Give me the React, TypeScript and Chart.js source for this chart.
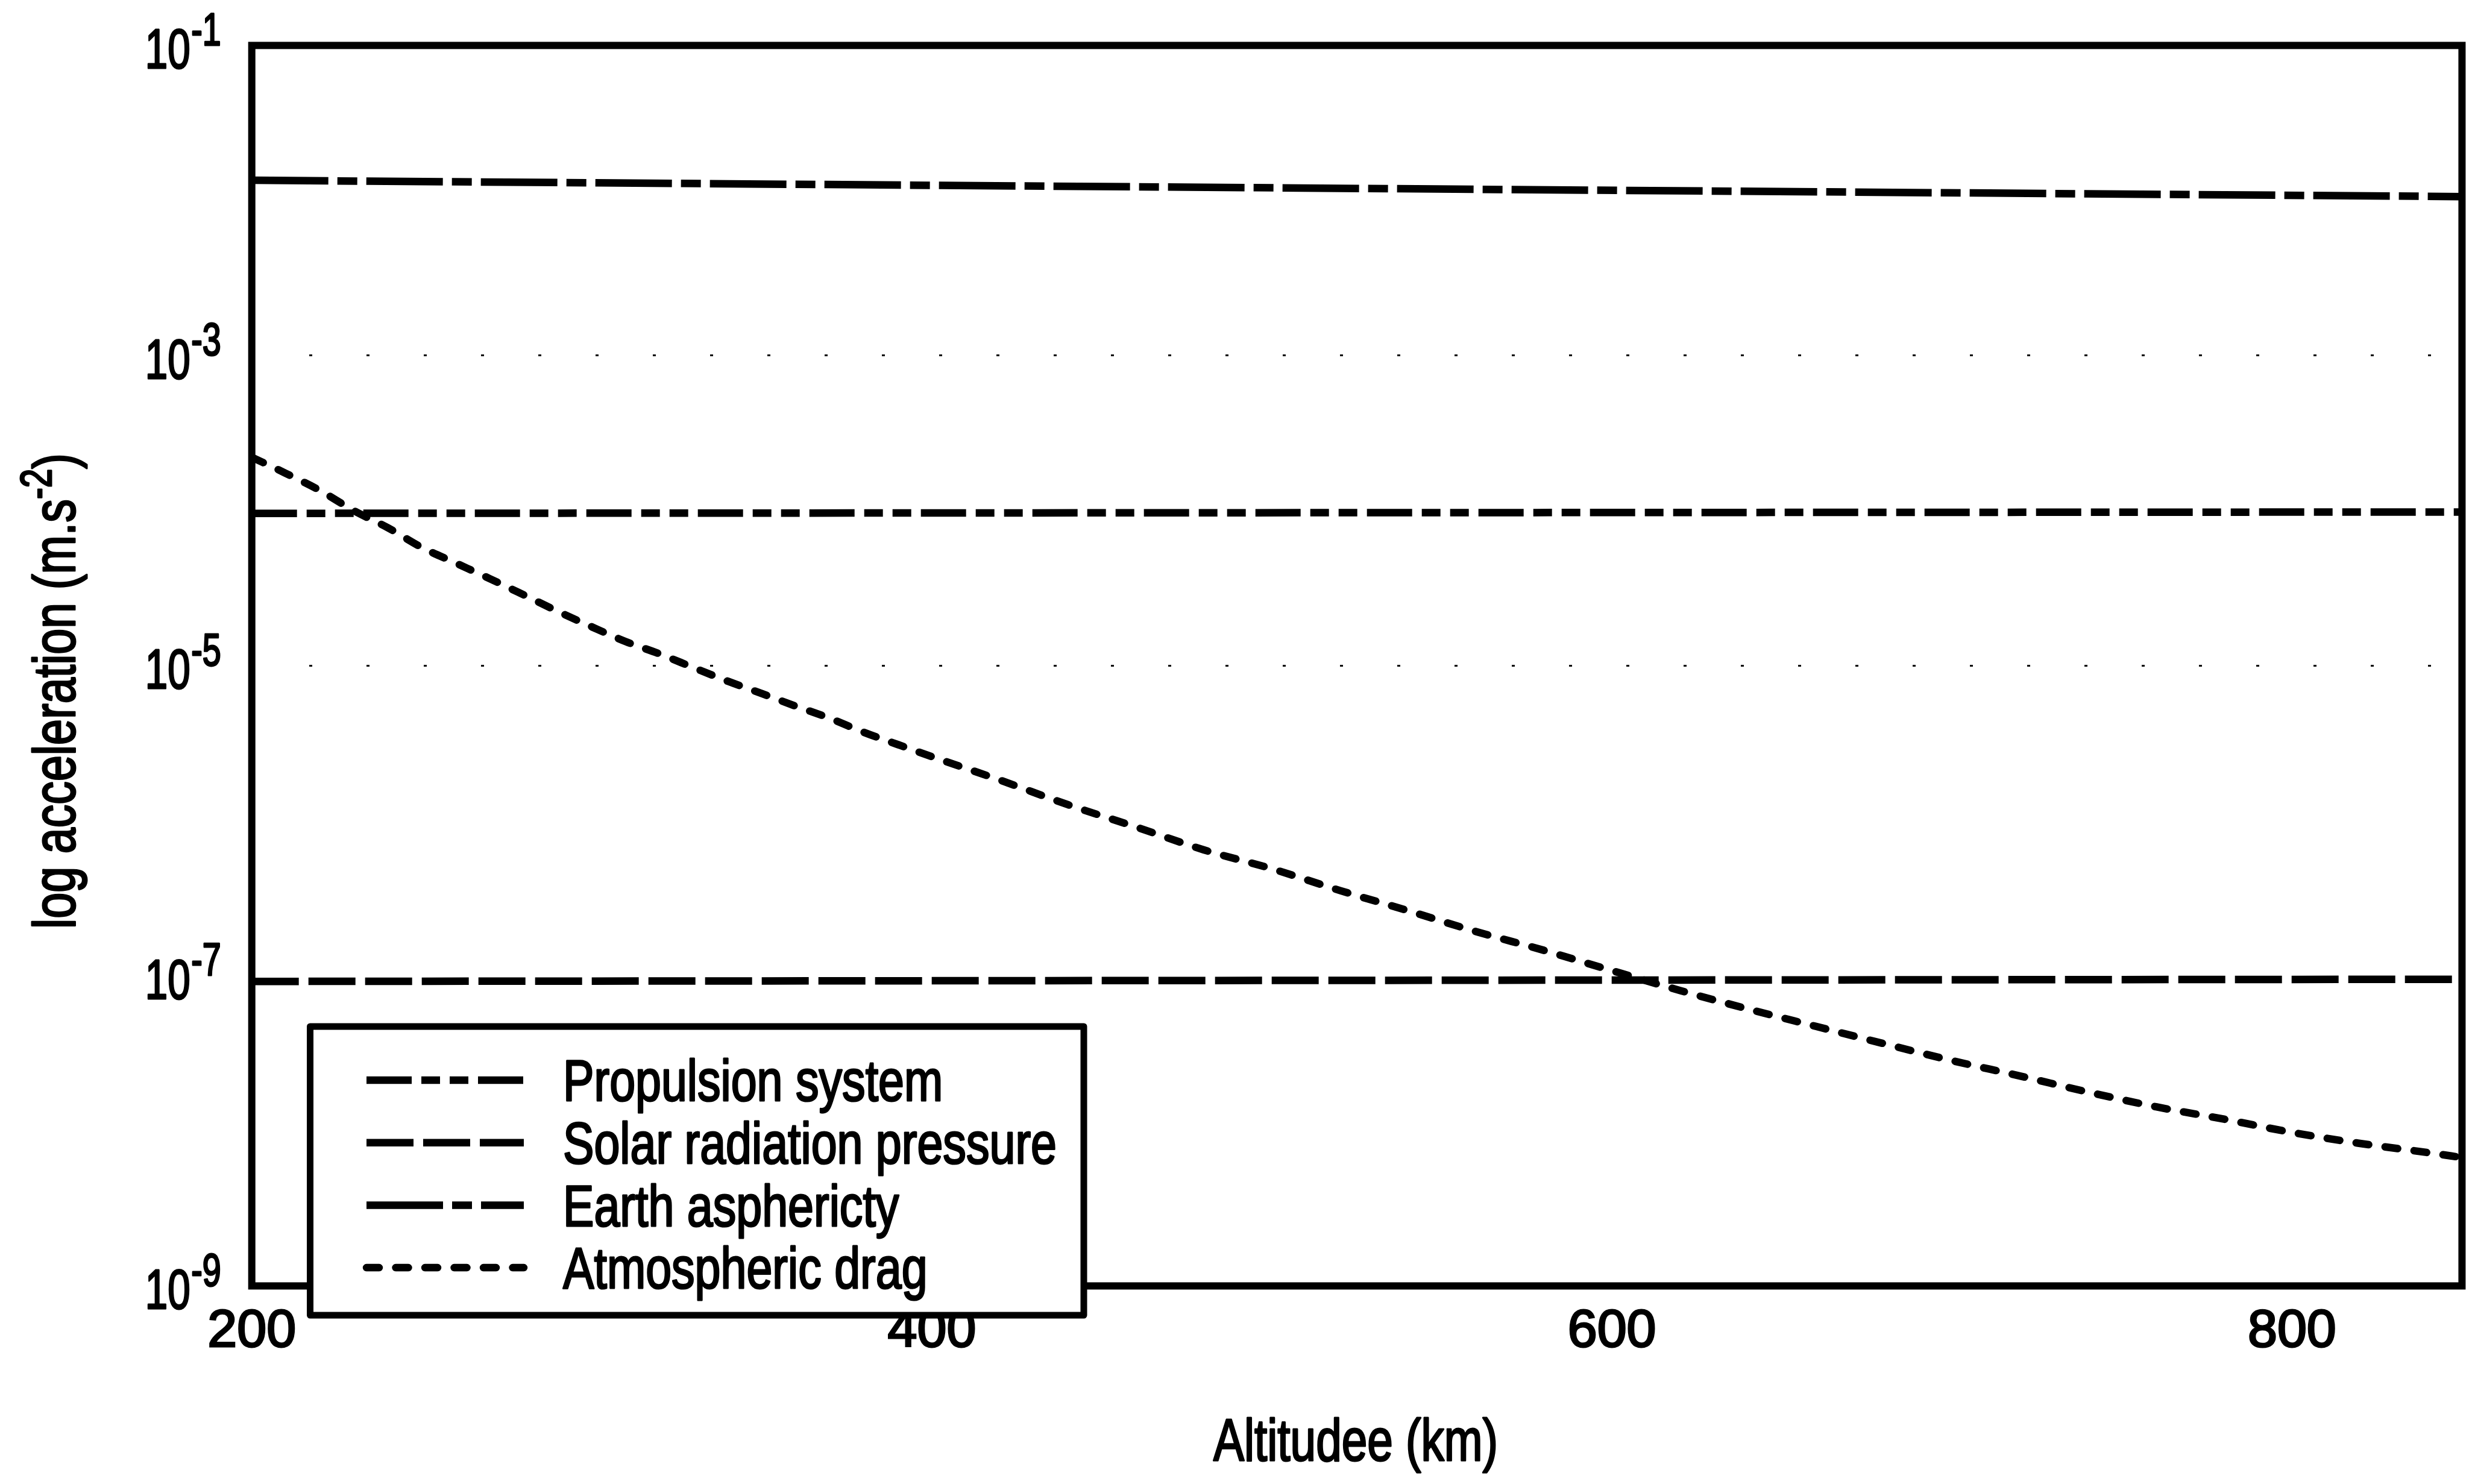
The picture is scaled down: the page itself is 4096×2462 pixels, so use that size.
import { useEffect, useRef } from "react";
import { Chart, registerables } from "chart.js";

Chart.register(...registerables);

// Atmospheric drag acceleration (m/s^2) against altitude (km)
const altitudeKm = [
  200, 210, 220, 230, 240, 250, 260, 270, 280, 290, 300, 310, 320, 330, 340, 350, 360, 370, 380, 390, 400,
  420, 440, 460, 480, 500, 520, 540, 560, 580, 600, 620, 640, 660, 680, 700, 720, 740, 760, 780, 800, 820, 840, 850,
];
const atmosphericDrag = [
  2.21e-4, 1.74e-4, 1.35e-4, 1.0e-4, 7.76e-5, 5.79e-5, 4.59e-5, 3.64e-5, 2.86e-5, 2.24e-5, 1.78e-5, 1.43e-5,
  1.19e-5, 9.7e-6, 7.94e-6, 6.61e-6, 5.48e-6, 4.58e-6, 3.72e-6, 3.1e-6, 2.59e-6, 1.83e-6, 1.27e-6, 9.12e-7,
  6.49e-7, 4.9e-7, 3.55e-7, 2.63e-7, 1.93e-7, 1.46e-7, 1.08e-7, 8.04e-8, 6.11e-8, 4.72e-8, 3.65e-8, 2.84e-8,
  2.26e-8, 1.78e-8, 1.43e-8, 1.19e-8, 9.77e-9, 8.3e-9, 7.24e-9, 6.73e-9,
];

// The other perturbations, given at both ends of the altitude range
const rangeEndsKm = [200, 850];
const propulsionSystem = [9.6e-5, 9.8e-5];
const solarRadiationPressure = [9.2e-8, 9.5e-8];
const earthAsphericity = [1.35e-2, 1.06e-2];

const seriesNames = ["Propulsion system", "Solar radiation pressure", "Earth asphericty", "Atmospheric drag"];
const altitudeTicks = [200, 400, 600, 800];
const accelerationTickExponents = [-1, -3, -5, -7, -9];
const dottedGridExponents = [-3, -5];
const xAxisTitle = "Altitudee (km)";
const yAxisTitleParts = ["log acceleration (m.s", "-2", ")"];

const W = 4096;
const H = 2462;
const FONT = '"Liberation Sans Narrow", "Arial Narrow", "Liberation Sans", Arial, sans-serif';
const font = (px: number) => `${px}px ${FONT}`;
const TEXT_STROKE = 3;

const PLOT_LEFT = 417.7;
const PLOT_RIGHT = 4084.4;
const PLOT_TOP = 75.4;
const PLOT_BOTTOM = 2133.4;

const LINE_W = 12.5;
const lineStyles = [
  { dash: [75, 16, 31, 16, 31, 16], cap: "butt" },
  { dash: [78, 16], cap: "butt" },
  { dash: [127, 15, 33, 15], cap: "butt" },
  { dash: [21, 27.5], cap: "round" },
];

const seriesValues = [propulsionSystem, solarRadiationPressure, earthAsphericity];

// filled text with a thin outline so the glyphs carry the same weight as the rest of the figure
function inkText(ctx: CanvasRenderingContext2D, text: string, x: number, y: number) {
  ctx.fillText(text, x, y);
  ctx.strokeText(text, x, y);
}

const paperPlugin = {
  id: "paper",
  beforeDraw(chart: any) {
    const { ctx } = chart;
    ctx.save();
    ctx.fillStyle = "#fff";
    ctx.fillRect(0, 0, chart.width, chart.height);
    ctx.restore();
  },
  afterDraw(chart: any) {
    const { ctx, chartArea: a, scales } = chart;
    const yScale = scales.y;
    ctx.save();
    ctx.setLineDash([]);

    // plot frame
    ctx.strokeStyle = "#000";
    ctx.lineWidth = 12;
    ctx.strokeRect(a.left, a.top, a.right - a.left, a.bottom - a.top);

    ctx.fillStyle = "#000";
    ctx.strokeStyle = "#000";
    ctx.lineWidth = TEXT_STROKE;
    ctx.lineJoin = "round";
    ctx.textBaseline = "alphabetic";

    // decade labels with raised exponents, set in a condensed face
    ctx.font = font(92);
    const kBase = Math.min(1, 75 / ctx.measureText("10").width);
    for (const e of accelerationTickExponents) {
      const py = yScale.getPixelForValue(Math.pow(10, e));
      const cy = py + 5;
      const xr = a.left - 102;
      ctx.save();
      ctx.translate(xr, 0);
      ctx.scale(kBase, 1);
      ctx.font = font(92);
      ctx.textAlign = "right";
      inkText(ctx, "10", 0, cy + 0.358 * 92);
      ctx.font = font(76);
      ctx.textAlign = "left";
      inkText(ctx, `-${-e}`, 2, cy - 33 + 0.358 * 76);
      ctx.restore();
    }

    // horizontal axis title
    {
      const size = 98;
      ctx.font = font(size);
      const w = ctx.measureText(xAxisTitle).width;
      const k = Math.min(1, 472 / w);
      ctx.save();
      ctx.translate((a.left + a.right) / 2 - 2, 2388 + 0.358 * size);
      ctx.scale(k, 1);
      ctx.textAlign = "center";
      inkText(ctx, xAxisTitle, 0, 0);
      ctx.restore();
    }

    // vertical axis title
    {
      const size = 98;
      const supSize = 72;
      ctx.font = font(size);
      const w0 = ctx.measureText(yAxisTitleParts[0]).width;
      const w2 = ctx.measureText(yAxisTitleParts[2]).width;
      ctx.font = font(supSize);
      const w1 = ctx.measureText(yAxisTitleParts[1]).width;
      const total = w0 + w1 + w2;
      const k = Math.min(1, 789 / total);
      ctx.save();
      ctx.translate(124, (a.top + a.bottom) / 2 + 42);
      ctx.rotate(-Math.PI / 2);
      ctx.scale(k, 1);
      ctx.textAlign = "left";
      let u = -total / 2;
      ctx.font = font(size);
      inkText(ctx, yAxisTitleParts[0], u, 0);
      u += w0;
      ctx.font = font(supSize);
      inkText(ctx, yAxisTitleParts[1], u, -0.4 * size);
      u += w1;
      ctx.font = font(size);
      inkText(ctx, yAxisTitleParts[2], u, 0);
      ctx.restore();
    }

    // legend
    {
      const box = { left: 514.5, top: 1703, right: 1798, bottom: 2182 };
      ctx.fillStyle = "#fff";
      ctx.fillRect(box.left, box.top, box.right - box.left, box.bottom - box.top);
      ctx.strokeStyle = "#000";
      ctx.lineWidth = 11;
      ctx.strokeRect(box.left, box.top, box.right - box.left, box.bottom - box.top);

      const size = 96;
      ctx.font = font(size);
      const k = Math.min(1, 819 / ctx.measureText(seriesNames[1]).width);
      seriesNames.forEach((name, i) => {
        const ry = 1792 + i * 103.7;
        const st = lineStyles[i];
        ctx.save();
        ctx.strokeStyle = "#000";
        ctx.lineWidth = LINE_W;
        ctx.lineCap = st.cap;
        ctx.setLineDash(st.dash);
        ctx.beginPath();
        ctx.moveTo(608, ry);
        ctx.lineTo(869, ry);
        ctx.stroke();
        ctx.restore();

        ctx.save();
        ctx.fillStyle = "#000";
        ctx.strokeStyle = "#000";
        ctx.lineWidth = TEXT_STROKE;
        ctx.lineJoin = "round";
        ctx.font = font(size);
        ctx.textAlign = "left";
        ctx.textBaseline = "alphabetic";
        ctx.translate(934, ry + 0.358 * size);
        ctx.scale(k, 1);
        inkText(ctx, name, 0, 0);
        ctx.restore();
      });
    }
    ctx.restore();
  },
};

export default function App() {
  const canvasRef = useRef<HTMLCanvasElement | null>(null);

  useEffect(() => {
    const canvas = canvasRef.current;
    if (!canvas) return;

    const straight = seriesValues.map((vals, i) => ({
      label: seriesNames[i],
      data: rangeEndsKm.map((x, j) => ({ x, y: vals[j] })),
      borderColor: "#000",
      borderWidth: LINE_W,
      borderDash: lineStyles[i].dash,
      borderCapStyle: lineStyles[i].cap,
      pointRadius: 0,
      fill: false,
    }));

    const drag = {
      label: seriesNames[3],
      data: altitudeKm.map((x, j) => ({ x, y: atmosphericDrag[j] })),
      borderColor: "#000",
      borderWidth: LINE_W,
      borderDash: lineStyles[3].dash,
      borderCapStyle: lineStyles[3].cap,
      cubicInterpolationMode: "monotone",
      pointRadius: 0,
      fill: false,
    };

    const isDotted = (v: number) => dottedGridExponents.some((e) => Math.abs(Math.log10(v) - e) < 1e-6);

    const chart = new Chart(canvas, {
      type: "line",
      data: { datasets: [...straight, drag] as any },
      options: {
        responsive: false,
        animation: false,
        devicePixelRatio: 1,
        layout: { padding: { left: 0, top: PLOT_TOP, right: W - PLOT_RIGHT, bottom: 0 } },
        plugins: { legend: { display: false }, tooltip: { enabled: false }, title: { display: false } },
        elements: { point: { radius: 0 }, line: { tension: 0 } },
        scales: {
          x: {
            type: "linear",
            position: "bottom",
            min: 200,
            max: 850,
            afterBuildTicks: (s: any) => {
              s.ticks = altitudeTicks.map((v) => ({ value: v }));
            },
            afterFit: (s: any) => {
              s.height = H - PLOT_BOTTOM;
            },
            ticks: {
              color: "#000",
              font: { family: FONT, size: 88 },
              padding: 24,
              maxRotation: 0,
              autoSkip: false,
              textStrokeColor: "#000",
              textStrokeWidth: TEXT_STROKE,
              callback: (v: any) => String(v),
            },
            grid: { display: false, drawTicks: false },
            border: { display: false },
            title: { display: false },
          },
          y: {
            type: "logarithmic",
            min: 1e-9,
            max: 1e-1,
            afterBuildTicks: (s: any) => {
              const t = [];
              for (let e = -9; e <= -1; e++) t.push({ value: Math.pow(10, e) });
              s.ticks = t;
            },
            afterFit: (s: any) => {
              s.width = PLOT_LEFT;
            },
            ticks: { display: false },
            grid: {
              drawTicks: false,
              lineWidth: 3,
              color: (c: any) => (c.tick && isDotted(c.tick.value) ? "#000" : "rgba(0,0,0,0)"),
            },
            border: { display: false, dash: [5, 90] },
          },
        },
      } as any,
      plugins: [paperPlugin],
    });

    return () => chart.destroy();
  }, []);

  return (
    <div style={{ position: "fixed", left: 0, top: 0, width: W, height: H, background: "#fff" }}>
      <canvas ref={canvasRef} width={W} height={H} style={{ display: "block", width: `${W}px`, height: `${H}px` }} />
    </div>
  );
}
